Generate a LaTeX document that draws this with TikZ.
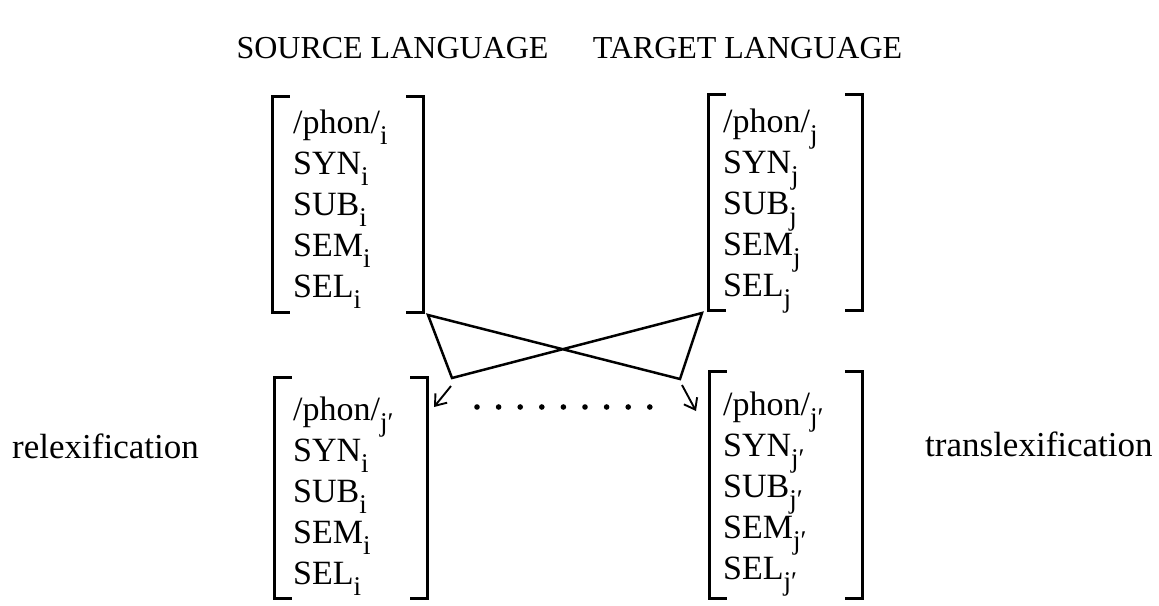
\documentclass[tikz,border=0pt]{standalone}
\usepackage{fontspec}
\setmainfont{Liberation Serif}
\usetikzlibrary{calc,arrows.meta}

% lowered index without affecting line spacing
\newcommand\idx[1]{\raisebox{-11pt}[0pt][0pt]{\fontsize{27}{27}\selectfont #1}}

% square brackets around a frame node
\newcommand\lexbrackets[1]{%
  \draw[brk] ([xshift=16pt]#1.north west) -- (#1.north west) -- (#1.south west) -- ([xshift=16pt]#1.south west);
  \draw[brk] ([xshift=-16pt]#1.north east) -- (#1.north east) -- (#1.south east) -- ([xshift=-16pt]#1.south east);}

\begin{document}
\begin{tikzpicture}[x=1pt,y=-1pt,
  frame/.style={rectangle,inner sep=0pt,draw=none},
  brk/.style={line width=2.8pt,line cap=rect,line join=miter},
  entry/.style={inner sep=0pt,anchor=base west,font=\fontsize{34}{41}\selectfont},
  heading/.style={inner sep=0pt,anchor=base,font=\fontsize{32}{36}\selectfont},
  label/.style={inner sep=0pt,anchor=base west,font=\fontsize{35}{40}\selectfont},
  cross/.style={line width=2.5pt,line join=miter},
  pointer/.style={line width=1.9pt,-{Straight Barb[length=10pt,width=15pt,line width=1.9pt]}},
  dotmark/.style={fill=black,draw=none}]

\useasboundingbox (0,0) rectangle (1159,605);

% column headings
\node[heading] (hsrc) at (392.5,58) {SOURCE LANGUAGE};
\node[heading] (htgt) at (747.5,58) {TARGET LANGUAGE};

% bracket frames
\node[frame,minimum width=150pt,minimum height=215pt] (tl) at (348,204.5) {};
\node[frame,minimum width=153pt,minimum height=215pt] (tr) at (785.5,202.5) {};
\node[frame,minimum width=152pt,minimum height=220pt] (bl) at (351,488) {};
\node[frame,minimum width=152pt,minimum height=226pt] (br) at (786,485) {};
\lexbrackets{tl}
\lexbrackets{tr}
\lexbrackets{bl}
\lexbrackets{br}

% feature lists
\node[entry] (tltext) at (293,133) {\begin{tabular}[t]{@{}l@{}}
  /phon/\idx{i}\\ SYN\idx{i}\\ SUB\idx{i}\\ SEM\idx{i}\\ SEL\idx{i}
\end{tabular}};
\node[entry] (trtext) at (723,132) {\begin{tabular}[t]{@{}l@{}}
  /phon/\idx{j}\\ SYN\idx{j}\\ SUB\idx{j}\\ SEM\idx{j}\\ SEL\idx{j}
\end{tabular}};
\node[entry] (bltext) at (293,420) {\begin{tabular}[t]{@{}l@{}}
  /phon/\idx{j′}\\ SYN\idx{i}\\ SUB\idx{i}\\ SEM\idx{i}\\ SEL\idx{i}
\end{tabular}};
\node[entry] (brtext) at (723,415) {\begin{tabular}[t]{@{}l@{}}
  /phon/\idx{j′}\\ SYN\idx{j′}\\ SUB\idx{j′}\\ SEM\idx{j′}\\ SEL\idx{j′}
\end{tabular}};

% side labels
\node[label] (relex) at (12,458) {relexification};
\node[label] (translex) at (925,456) {translexification};

% crossing links
\coordinate (b1) at (428,315);
\coordinate (b2) at (680,379);
\coordinate (b3) at (702,313);
\coordinate (b4) at (452,378);
\draw[cross] (b1) -- (b2) -- (b3) -- (b4) -- cycle;

% pointers to the new entries
\coordinate (lstart) at (451,386);
\coordinate (lend) at (434,407);
\coordinate (rstart) at (682,385);
\coordinate (rend) at (696,411);
\draw[pointer] (lstart) -- (lend);
\draw[pointer] (rstart) -- (rend);

% dotted link
\foreach \k in {0,...,8}
  \fill[dotmark] ({477+21.6*\k},407) circle (2.8pt);

\end{tikzpicture}
\end{document}
